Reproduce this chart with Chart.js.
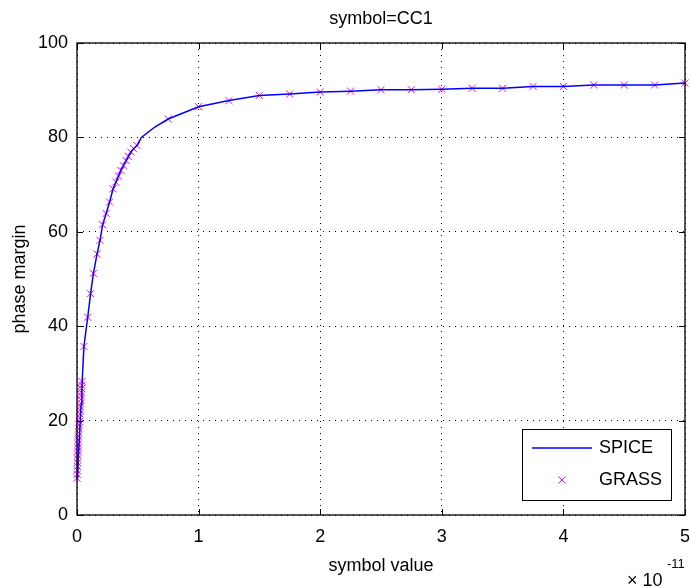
<!DOCTYPE html>
<html>
<head>
<meta charset="utf-8">
<script src="https://cdn.jsdelivr.net/npm/chart.js@4"></script>
<style>
  html, body { margin: 0; padding: 0; background: #fff; }
</style>
</head>
<body>
<canvas id="pmChart" width="691" height="588"></canvas>
<script>
// symbol value in units of 1e-11
const spiceX = [0.004, 0.010, 0.018, 0.026, 0.034, 0.040, 0.047, 0.057, 0.088, 0.112, 0.135, 0.165, 0.189, 0.211,
  0.240, 0.268, 0.297, 0.320, 0.341, 0.361, 0.382, 0.404, 0.423, 0.443, 0.465, 0.493, 0.530, 0.640, 0.750,
  1.00, 1.25, 1.50, 1.75, 2.00, 2.25, 2.50, 2.75, 3.00, 3.25, 3.50, 3.75, 4.00, 4.25, 4.50, 4.75, 5.00];
const spiceY = [7.7, 11.5, 15.5, 19.5, 23.5, 26.5, 30.6, 35.7, 41.9, 46.9, 51.2, 55.3, 58.2, 61.5,
  63.9, 66.3, 69.1, 70.5, 71.8, 73.0, 74.0, 75.1, 76.0, 76.9, 77.6, 78.3, 80.0, 82.2, 83.9,
  86.5, 87.8, 88.9, 89.2, 89.6, 89.8, 90.1, 90.1, 90.2, 90.4, 90.4, 90.8, 90.8, 91.1, 91.1, 91.1, 91.5];

const grassX = [0.000, 0.001, 0.002, 0.003, 0.004, 0.005, 0.006, 0.007, 0.008, 0.009, 0.010, 0.011, 0.013, 0.015,
  0.017, 0.019, 0.021, 0.023, 0.025, 0.027, 0.029, 0.031, 0.033, 0.035, 0.037, 0.039, 0.041,
  0.057, 0.088, 0.112, 0.135, 0.165, 0.189, 0.211, 0.240, 0.268, 0.297, 0.320, 0.341, 0.361, 0.382, 0.404,
  0.423, 0.443, 0.465, 0.493, 0.750, 1.00, 1.25, 1.50, 1.75, 2.00, 2.25, 2.50, 2.75, 3.00, 3.25, 3.50,
  3.75, 4.00, 4.25, 4.50, 4.75, 5.00];
const grassY = [7.8, 8.6, 9.5, 10.3, 11.1, 11.9, 12.7, 13.5, 14.3, 15.1, 15.9, 16.7, 17.5, 18.3,
  19.1, 19.8, 20.6, 21.4, 22.2, 23.0, 23.7, 24.5, 25.3, 26.0, 26.8, 27.5, 28.3,
  35.7, 41.9, 46.9, 51.2, 55.3, 58.2, 61.5, 63.9, 66.3, 69.1, 70.5, 71.8, 73.0, 74.0, 75.1,
  76.0, 76.9, 77.6, 78.3, 83.9, 86.5, 87.8, 88.9, 89.2, 89.6, 89.8, 90.1, 90.1, 90.2, 90.4, 90.4,
  90.8, 90.8, 91.1, 91.1, 91.1, 91.5];

const xTicks = [0, 1, 2, 3, 4, 5];
const yTicks = [0, 20, 40, 60, 80, 100];
const seriesNames = ['SPICE', 'GRASS'];

const FONT = '"Liberation Sans", Arial, Helvetica, sans-serif';
const BLUE = '#0000ff';
const MAGENTA = '#ff00ff';

const toPoints = (xs, ys) => xs.map((x, i) => ({ x: x, y: ys[i] }));

// axes box, inward ticks, title, exponent and the legend box
const framePlugin = {
  id: 'frame',
  afterDraw(chart) {
    const { ctx, chartArea: a, scales: { x, y } } = chart;
    ctx.save();

    ctx.strokeStyle = '#000';
    ctx.lineWidth = 1;
    const tl = 6;
    ctx.beginPath();
    xTicks.forEach(v => {
      const px = Math.round(x.getPixelForValue(v)) + 0.5;
      ctx.moveTo(px, a.bottom); ctx.lineTo(px, a.bottom - tl);
      ctx.moveTo(px, a.top); ctx.lineTo(px, a.top + tl);
    });
    yTicks.forEach(v => {
      const py = Math.round(y.getPixelForValue(v)) + 0.5;
      ctx.moveTo(a.left, py); ctx.lineTo(a.left + tl, py);
      ctx.moveTo(a.right, py); ctx.lineTo(a.right - tl, py);
    });
    ctx.stroke();

    ctx.lineWidth = 1.3;
    ctx.strokeRect(a.left, a.top, a.right - a.left, a.bottom - a.top);

    // title
    ctx.fillStyle = '#000';
    ctx.font = '18px ' + FONT;
    ctx.textAlign = 'center';
    ctx.textBaseline = 'middle';
    ctx.fillText('symbol=CC1', (a.left + a.right) / 2, 19);

    // x axis multiplier
    ctx.textAlign = 'left';
    ctx.textBaseline = 'alphabetic';
    ctx.fillText('\u00d7 10', 627, 586);
    ctx.font = '13px ' + FONT;
    ctx.fillText('-11', 667, 568);

    // legend
    const lx = a.right - 163, ly = a.bottom - 86, lw = 149, lh = 71;
    ctx.fillStyle = '#fff';
    ctx.fillRect(lx, ly, lw, lh);
    ctx.lineWidth = 1;
    ctx.strokeStyle = '#000';
    ctx.strokeRect(lx + 0.5, ly + 0.5, lw, lh);

    const row1 = ly + 19, row2 = ly + 51;
    ctx.strokeStyle = BLUE;
    ctx.lineWidth = 1.5;
    ctx.beginPath();
    ctx.moveTo(lx + 10, row1); ctx.lineTo(lx + 70, row1);
    ctx.stroke();

    const mx = lx + 40, r = 3.5;
    ctx.strokeStyle = MAGENTA;
    ctx.lineWidth = 1;
    ctx.beginPath();
    ctx.moveTo(mx - r, row2 - r); ctx.lineTo(mx + r, row2 + r);
    ctx.moveTo(mx - r, row2 + r); ctx.lineTo(mx + r, row2 - r);
    ctx.stroke();

    ctx.fillStyle = '#000';
    ctx.font = '18px ' + FONT;
    ctx.textBaseline = 'middle';
    ctx.fillText(seriesNames[0], lx + 77, row1);
    ctx.fillText(seriesNames[1], lx + 77, row2);

    ctx.restore();
  }
};

new Chart(document.getElementById('pmChart'), {
  type: 'scatter',
  data: {
    datasets: [
      {
        label: seriesNames[0],
        data: toPoints(spiceX, spiceY),
        showLine: true,
        borderColor: BLUE,
        borderWidth: 1.5,
        pointRadius: 0,
        tension: 0,
        clip: false
      },
      {
        label: seriesNames[1],
        data: toPoints(grassX, grassY),
        showLine: false,
        pointStyle: 'crossRot',
        pointRadius: 5,
        pointBorderWidth: 1,
        pointBorderColor: MAGENTA,
        pointBackgroundColor: MAGENTA,
        clip: false
      }
    ]
  },
  options: {
    responsive: false,
    animation: false,
    layout: { padding: { top: 43, right: 5, left: 0, bottom: 0 } },
    plugins: {
      legend: { display: false },
      tooltip: { enabled: false },
      title: { display: false }
    },
    scales: {
      x: {
        type: 'linear',
        min: 0,
        max: 5,
        afterFit: s => { s.height = 73; s.paddingLeft = 0; s.paddingRight = 0; },
        afterBuildTicks: s => { s.ticks = xTicks.map(v => ({ value: v })); },
        ticks: { color: '#000', padding: 11, font: { family: FONT, size: 18 } },
        grid: { color: '#000', lineWidth: 1, drawTicks: false },
        border: { display: false, dash: [1, 5] },
        title: {
          display: true,
          text: 'symbol value',
          color: '#000',
          font: { family: FONT, size: 18 },
          padding: { top: 0, bottom: 11 }
        }
      },
      y: {
        type: 'linear',
        min: 0,
        max: 100,
        afterFit: s => { s.width = 77; s.paddingTop = 0; s.paddingBottom = 0; },
        afterBuildTicks: s => { s.ticks = yTicks.map(v => ({ value: v })); },
        ticks: { color: '#000', padding: 9, font: { family: FONT, size: 18 } },
        grid: { color: '#000', lineWidth: 1, drawTicks: false },
        border: { display: false, dash: [1, 5] },
        title: {
          display: true,
          text: 'phase margin',
          color: '#000',
          font: { family: FONT, size: 18 },
          padding: { top: 9, bottom: 0 }
        }
      }
    }
  },
  plugins: [framePlugin]
});
</script>
</body>
</html>
